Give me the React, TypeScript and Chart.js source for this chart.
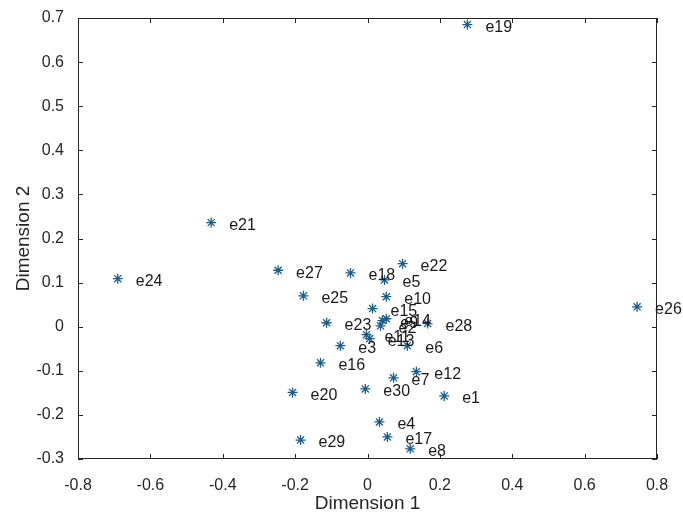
import React, { useEffect, useRef } from "react";
import { Chart, registerables } from "chart.js";

Chart.register(...registerables);

const pointLabels = [
  "e1", "e2", "e3", "e4", "e5", "e6", "e7", "e8", "e9", "e10",
  "e11", "e12", "e13", "e14", "e15", "e16", "e17", "e18", "e19", "e20",
  "e21", "e22", "e23", "e24", "e25", "e26", "e27", "e28", "e29", "e30",
];
const dim1 = [
  0.212, 0.036, -0.075, 0.033, 0.047, 0.110, 0.072, 0.118, 0.041, 0.052,
  -0.003, 0.135, 0.006, 0.052, 0.014, -0.130, 0.055, -0.047, 0.276, -0.207,
  -0.432, 0.097, -0.113, -0.690, -0.177, 0.745, -0.247, 0.166, -0.185, -0.006,
];
const dim2 = [
  -0.157, 0.002, -0.043, -0.216, 0.106, -0.043, -0.116, -0.277, 0.014, 0.068,
  -0.018, -0.102, -0.027, 0.018, 0.041, -0.082, -0.250, 0.122, 0.685, -0.149,
  0.236, 0.143, 0.009, 0.109, 0.070, 0.045, 0.128, 0.007, -0.257, -0.141,
];
const xTickValues = [-0.8, -0.6, -0.4, -0.2, 0, 0.2, 0.4, 0.6, 0.8];
const yTickValues = [-0.3, -0.2, -0.1, 0, 0.1, 0.2, 0.3, 0.4, 0.5, 0.6, 0.7];
const xTitle = "Dimension 1";
const yTitle = "Dimension 2";

const FONT = "'Liberation Sans', Arial, sans-serif";
const AXIS_COLOR = "#262626";
const MARK_COLOR = "#1b5e8c";

export default function App() {
  const ref = useRef<HTMLCanvasElement | null>(null);

  useEffect(() => {
    if (!ref.current) return;
    const decor = {
      id: "decor",
      afterDraw(chart: any) {
        const ctx = chart.ctx;
        const { left, right, top, bottom } = chart.chartArea;
        const xs = chart.scales.x;
        const ys = chart.scales.y;
        ctx.save();
        ctx.strokeStyle = AXIS_COLOR;
        ctx.lineWidth = 1;
        ctx.strokeRect(left + 0.5, top + 0.5, right - left - 1, bottom - top - 1);
        const tl = 5;
        ctx.beginPath();
        xTickValues.forEach((v) => {
          const p = Math.round(xs.getPixelForValue(v)) + 0.5;
          ctx.moveTo(p, bottom);
          ctx.lineTo(p, bottom - tl);
          ctx.moveTo(p, top);
          ctx.lineTo(p, top + tl);
        });
        yTickValues.forEach((v) => {
          const p = Math.round(ys.getPixelForValue(v)) + 0.5;
          ctx.moveTo(left, p);
          ctx.lineTo(left + tl, p);
          ctx.moveTo(right, p);
          ctx.lineTo(right - tl, p);
        });
        ctx.stroke();

        ctx.fillStyle = "#1a1a1a";
        ctx.font = `16px ${FONT}`;
        ctx.textAlign = "left";
        ctx.textBaseline = "middle";
        pointLabels.forEach((lab, i) => {
          const px = xs.getPixelForValue(dim1[i]);
          const py = ys.getPixelForValue(dim2[i]);
          ctx.fillText(lab, px + 18, py + 3);
        });

        ctx.fillStyle = AXIS_COLOR;
        ctx.font = `19px ${FONT}`;
        ctx.textAlign = "center";
        ctx.textBaseline = "middle";
        ctx.fillText(xTitle, (left + right) / 2, 504);
        ctx.translate(24, (top + bottom) / 2);
        ctx.rotate(-Math.PI / 2);
        ctx.fillText(yTitle, 0, 0);
        ctx.restore();
      },
    };

    const chart = new Chart(ref.current, {
      type: "scatter",
      data: {
        datasets: [
          {
            data: dim1.map((x, i) => ({ x, y: dim2[i] })),
            pointStyle: "star",
            radius: 5,
            hoverRadius: 5,
            borderColor: MARK_COLOR,
            backgroundColor: MARK_COLOR,
            borderWidth: 1.3,
            clip: false as any,
          },
        ],
      },
      options: {
        responsive: false,
        animation: false,
        events: [],
        layout: { padding: { left: 0, top: 18, right: 26, bottom: 0 } },
        plugins: { legend: { display: false }, tooltip: { enabled: false } },
        scales: {
          x: {
            type: "linear",
            min: -0.8,
            max: 0.8,
            grid: { display: false },
            border: { display: false },
            afterBuildTicks: (s: any) => {
              s.ticks = xTickValues.map((v) => ({ value: v }));
            },
            afterFit: (s: any) => {
              s.height = 57;
            },
            ticks: {
              color: AXIS_COLOR,
              font: { family: FONT, size: 16 },
              padding: 9,
              maxRotation: 0,
              callback: (v: any) => String(v),
            },
          },
          y: {
            type: "linear",
            min: -0.3,
            max: 0.7,
            grid: { display: false },
            border: { display: false },
            afterBuildTicks: (s: any) => {
              s.ticks = yTickValues.map((v) => ({ value: v }));
            },
            afterFit: (s: any) => {
              s.width = 78;
            },
            ticks: {
              color: AXIS_COLOR,
              font: { family: FONT, size: 16 },
              padding: 6,
              callback: (v: any) => String(v),
            },
          },
        },
      },
      plugins: [decor],
    });
    return () => chart.destroy();
  }, []);

  return (
    <div style={{ position: "fixed", left: 0, top: 0, width: 683, height: 516, background: "#fff" }}>
      <canvas ref={ref} width={683} height={516} style={{ display: "block" }} />
    </div>
  );
}
